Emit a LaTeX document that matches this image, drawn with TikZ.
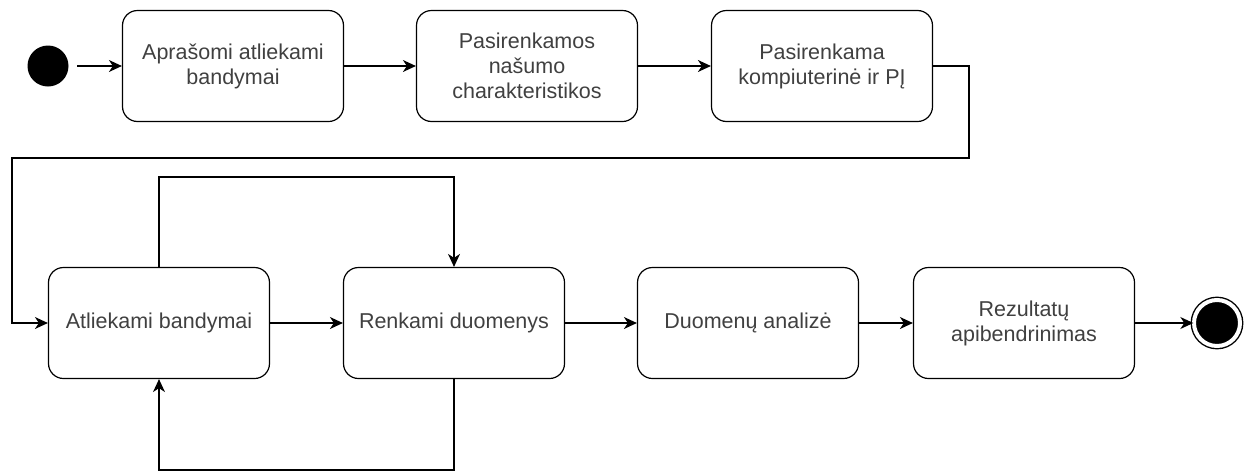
\documentclass[tikz,border=0pt]{standalone}
\usepackage{fontspec}
\setmainfont{Liberation Sans}
\usetikzlibrary{arrows.meta}
\begin{document}
\begin{tikzpicture}[x=1pt, y=1pt, >={Stealth[length=13pt,width=12pt,inset=4pt]}, line width=1.2pt,
    stepbox/.style={draw, rounded corners=15pt, minimum width=221pt, minimum height=111pt, align=center,
        text=black!75, font=\fontsize{21.5}{25}\selectfont},
    startdot/.style={circle, fill=black, minimum size=41pt, inner sep=0pt},
    enddot/.style={circle, draw, fill=black, double=white, double distance=4pt, line width=1.4pt,
        minimum size=46pt, inner sep=0pt}]
    \useasboundingbox (0,0) rectangle (1251,-472);
    % top row
    \node[startdot] (start) at (48,-66) {};
    \node[stepbox] (desc) at (233,-66) {Aprašomi atliekami\\bandymai};
    \node[stepbox] (chars) at (527,-66) {Pasirenkamos\\našumo\\charakteristikos};
    \node[stepbox] (pc) at (822,-66) {Pasirenkama\\kompiuterinė ir PĮ};
    % bottom row
    \node[stepbox] (tests) at (159,-323) {Atliekami bandymai};
    \node[stepbox] (data) at (454,-323) {Renkami duomenys};
    \node[stepbox] (anal) at (748,-323) {Duomenų analizė};
    \node[stepbox] (sum) at (1024,-323) {Rezultatų\\apibendrinimas};
    \node[enddot] (finish) at (1217,-323) {};
    % helper points
    \coordinate (wrapr) at (969,-158);
    \coordinate (wrapl) at (12,-158);
    \coordinate (looptop) at (300,-177);
    \coordinate (loopbot) at (300,-470);
    % connectors
    \draw[->, shorten <=8pt] (start) -- (desc);
    \draw[->] (desc) -- (chars);
    \draw[->] (chars) -- (pc);
    \draw[->] (pc.east) -| (wrapr) -- (wrapl) |- (tests.west);
    \draw[->] (tests) -- (data);
    \draw[->] (data) -- (anal);
    \draw[->] (anal) -- (sum);
    \draw[->] (sum) -- (finish);
    \draw[->] (tests.north) |- (looptop) -| (data.north);
    \draw[->] (data.south) |- (loopbot) -| (tests.south);
\end{tikzpicture}
\end{document}
